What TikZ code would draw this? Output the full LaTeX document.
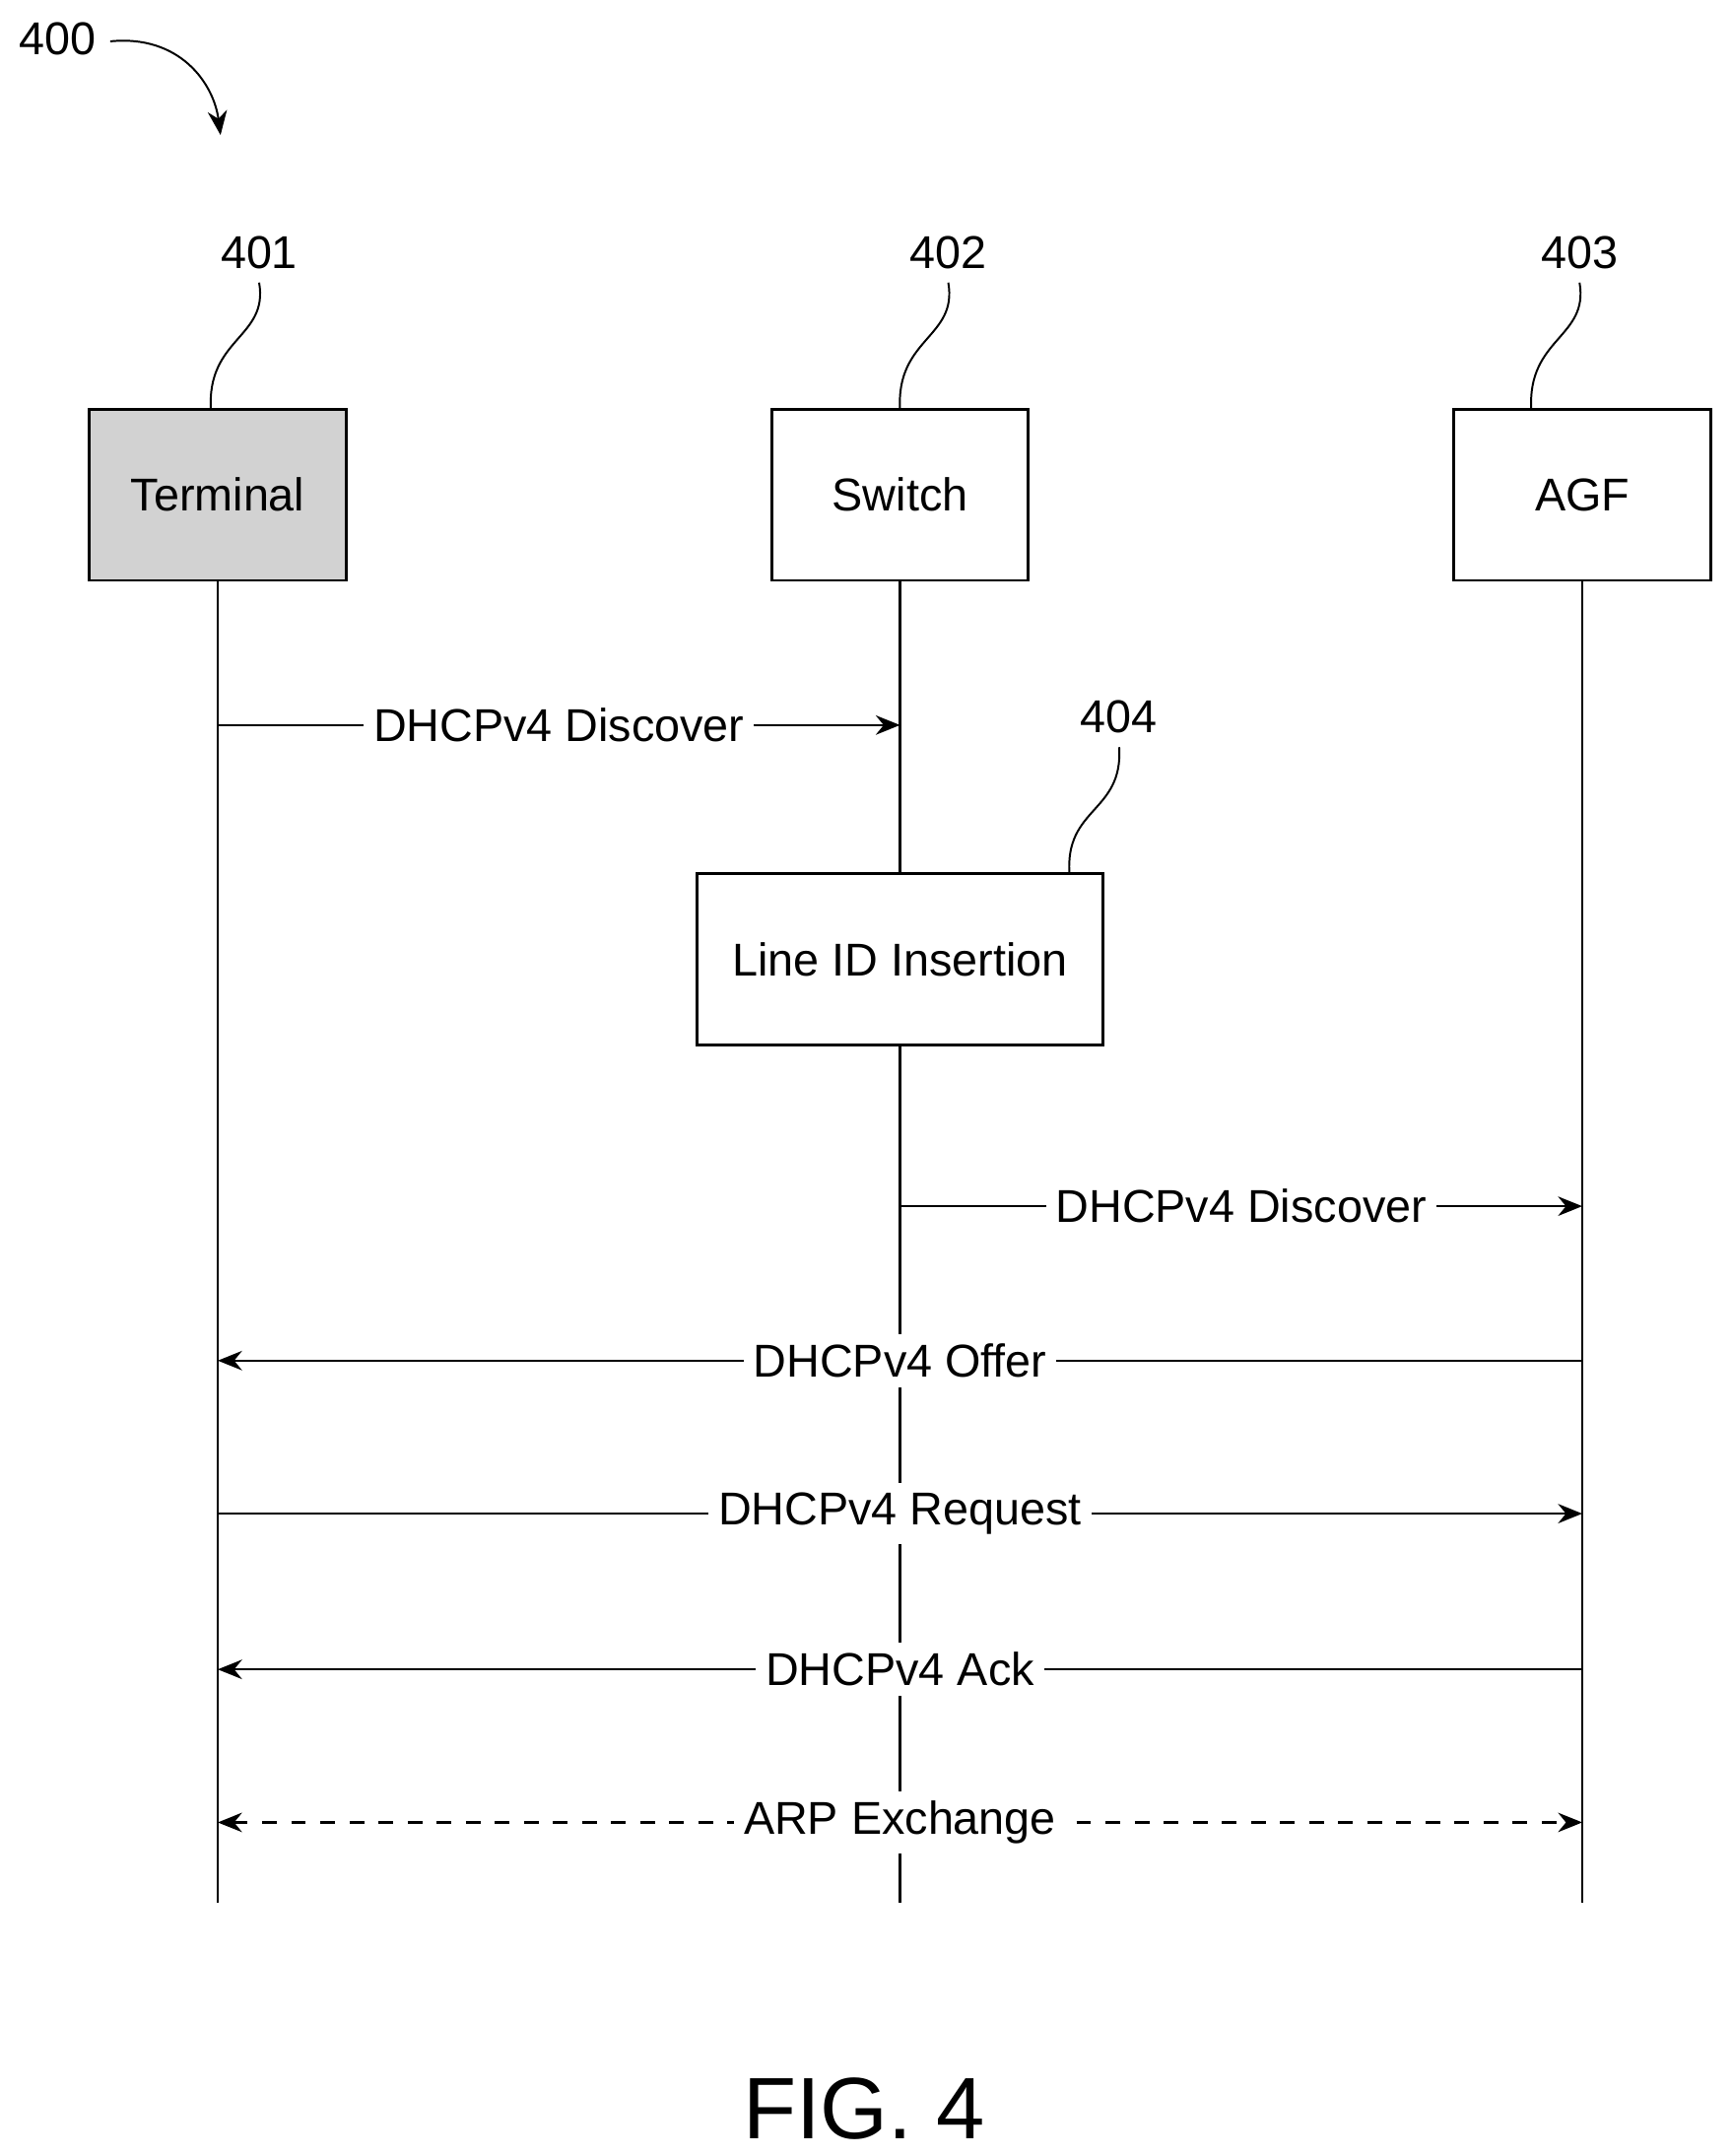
\documentclass[tikz,border=0pt]{standalone}
\usepackage{fontspec}
\setmainfont{Liberation Sans}
\usetikzlibrary{arrows.meta}
\tikzset{
  actor/.style={draw,line width=0.6pt,minimum width=1.86cm,minimum height=1.24cm,font=\fontsize{9.5}{11}\selectfont},
  msg/.style={line width=0.5pt,-{Stealth[length=5pt,width=4pt]}},
  lbl/.style={fill=white,inner sep=2pt,font=\fontsize{9.5}{11}\selectfont},
  refnum/.style={font=\fontsize{9.5}{11}\selectfont}
}
\begin{document}
\begin{tikzpicture}[x=0.01cm,y=-0.01cm]
  % Boundary
  \path[use as bounding box] (0,0) rectangle (1256,1564);
  % Participants
  \node[actor,fill=gray!35] (term) at (158,359) {Terminal};
  \node[actor] (sw) at (653,359) {Switch};
  \node[actor] (agf) at (1148,359) {AGF};
  % Reference numerals
  \node[refnum] (n400) at (42,28) {400};
  \node[refnum] (n401) at (188,183) {401};
  \node[refnum] (n402) at (688,183) {402};
  \node[refnum] (n403) at (1146,183) {403};
  \node[refnum] (n404) at (812,520) {404};
  \draw[-{Stealth[length=5pt,width=4pt]}] (80,30) .. controls (130,25) and (155,60) .. (160,98);
  \draw (188,205) .. controls (195,245) and (150,245) .. (153,297);
  \draw (688,205) .. controls (695,245) and (650,245) .. (653,297);
  \draw (1146,205) .. controls (1153,245) and (1108,245) .. (1111,297);
  \draw (812,542) .. controls (815,590) and (772,585) .. (776,635);
  % Lifelines
  \coordinate (tend) at (158,1380);
  \coordinate (send) at (653,1380);
  \coordinate (aend) at (1148,1380);
  \draw[line width=0.5pt] (term.south) -- (tend);
  \draw[line width=0.5pt] (agf.south) -- (aend);
  \node[actor,minimum width=2.94cm,fill=white] (lid) at (653,696) {Line ID Insertion};
  \draw[line width=0.5pt] (sw.south) -- (lid.north);
  \draw[line width=0.5pt] (lid.south) -- (send);
  % Messages
  \foreach \y/\a/\b/\t/\s in {526/158/653/DHCPv4 Discover/solid,
      875/653/1148/DHCPv4 Discover/solid,
      987/1148/158/DHCPv4 Offer/solid,
      1098/158/1148/DHCPv4 Request/solid,
      1211/1148/158/DHCPv4 Ack/solid}{
    \draw[msg,\s] (\a,\y) -- node[lbl] {\t} (\b,\y);
  }
  \draw[msg,dashed,{Stealth[length=5pt,width=4pt]}-{Stealth[length=5pt,width=4pt]}] (158,1322) -- node[lbl] {ARP Exchange} (1148,1322);
  % Caption
  \node[font=\fontsize{18}{20}\selectfont] (fig) at (627,1530) {FIG. 4};
\end{tikzpicture}
\end{document}
